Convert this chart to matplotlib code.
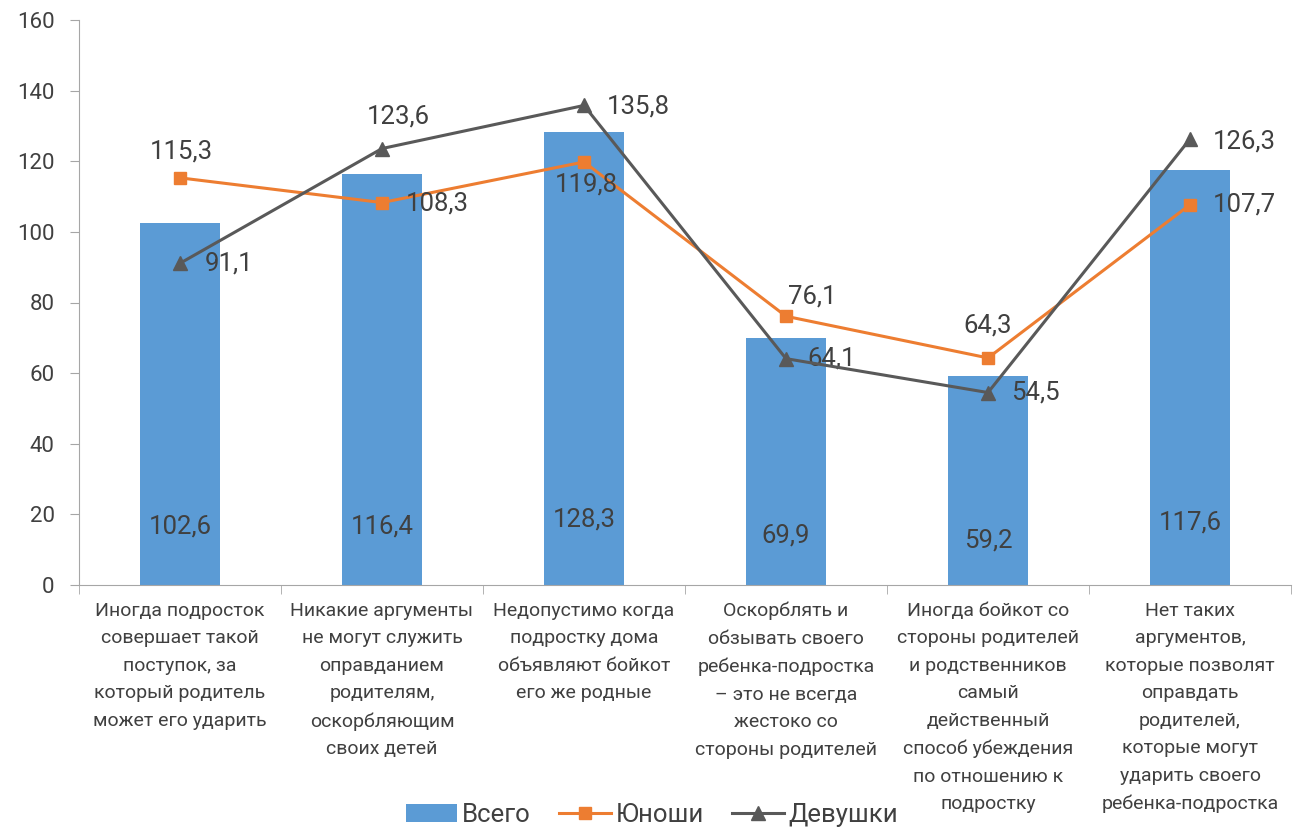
import matplotlib
matplotlib.use("Agg")
import matplotlib.pyplot as plt
import numpy as np

categories = [
    "Иногда подросток\nсовершает такой\nпоступок, за\nкоторый родитель\nможет его ударить",
    "Никакие аргументы\nне могут служить\nоправданием\nродителям,\nоскорбляющим\nсвоих детей",
    "Недопустимо когда\nподростку дома\nобъявляют бойкот\nего же родные",
    "Оскорблять и\nобзывать своего\nребенка-подростка\n– это не всегда\nжестоко со\nстороны родителей",
    "Иногда бойкот со\nстороны родителей\nи родственников\nсамый\nдейственный\nспособ убеждения\nпо отношению к\nподростку",
    "Нет таких\nаргументов,\nкоторые позволят\nоправдать\nродителей,\nкоторые могут\nударить своего\nребенка-подростка",
]
vsego = [102.6, 116.4, 128.3, 69.9, 59.2, 117.6]
yunoshi = [115.3, 108.3, 119.8, 76.1, 64.3, 107.7]
devushki = [91.1, 123.6, 135.8, 64.1, 54.5, 126.3]
series_names = ["Всего", "Юноши", "Девушки"]
yticks = [0, 20, 40, 60, 80, 100, 120, 140, 160]

plt.rcParams['font.family'] = ["Roboto", "DejaVu Sans"]

def fmt(v):
    return f"{v:.1f}".replace(".", ",")

c_bar = "#5B9BD5"
c_or = "#ED7D31"
c_gr = "#595959"
c_txt = "#404040"
c_ax = "#A6A6A6"

fig = plt.figure(figsize=(13.02, 8.31), dpi=100)
ax = fig.add_axes([79/1302, 1-585/831, (1291-79)/1302, (585-20)/831])
x = np.arange(len(categories))
h_bar = ax.bar(x, vsego, width=0.4, color=c_bar, label=series_names[0], zorder=2)
h_or, = ax.plot(x, yunoshi, color=c_or, lw=2.2, marker="s", ms=9, label=series_names[1], zorder=3)
h_gr, = ax.plot(x, devushki, color=c_gr, lw=2.2, marker="^", ms=10, label=series_names[2], zorder=4)

ax.set_xlim(-0.5, len(categories)-0.5)
ax.set_ylim(0, 160)
ax.set_yticks(yticks)
ax.set_yticklabels([str(t) for t in yticks], fontsize=16, color=c_txt)
for s in ["top", "right"]:
    ax.spines[s].set_visible(False)
for s in ["left", "bottom"]:
    ax.spines[s].set_color(c_ax)
ax.tick_params(axis="y", length=6.5, color=c_ax, pad=11)
ax.set_xticks(np.arange(len(categories)+1)-0.5, minor=True)
ax.set_xticks(x)
ax.set_xticklabels([])
ax.tick_params(axis="x", which="major", length=0)
ax.tick_params(axis="x", which="minor", length=6.5, color=c_ax)

for i, c in enumerate(categories):
    ax.annotate(c, (x[i], 0), xytext=(0, -12), textcoords="offset points",
                ha="center", va="top", fontsize=14,
                color=c_txt, linespacing=1.68, annotation_clip=False)

# bar labels
bar_off = [(0, 42), (0, 42), (0, 47), (0, 36), (0, 32), (0, 45)]
for i, v in enumerate(vsego):
    ax.annotate(fmt(v), (x[i], 0), xytext=bar_off[i], textcoords="offset points",
                ha="center", va="center", fontsize=18.5, color=c_txt)

yo_off = [(1, 19), (40, -1), (2, -16), (19, 14), (0, 23), (39, 0)]
for i, v in enumerate(yunoshi):
    ax.annotate(fmt(v), (x[i], v), xytext=yo_off[i], textcoords="offset points",
                ha="center", va="center", fontsize=18.5, color=c_txt)

de_off = [(35, 0), (12, 23), (39, -1), (33, 0), (34, 0), (39, -2)]
for i, v in enumerate(devushki):
    ax.annotate(fmt(v), (x[i], v), xytext=de_off[i], textcoords="offset points",
                ha="center", va="center", fontsize=18.5, color=c_txt)

leg = fig.legend(handles=[h_bar, h_or, h_gr], labels=series_names,
                 loc="center", bbox_to_anchor=(652/1302, 1-815/831), ncol=3, frameon=False,
                 fontsize=18.5, handlelength=2.0, handleheight=0.7, columnspacing=1.1,
                 handletextpad=0.2, labelcolor=c_txt, borderpad=0)

fig.savefig("out.png", dpi=100)
